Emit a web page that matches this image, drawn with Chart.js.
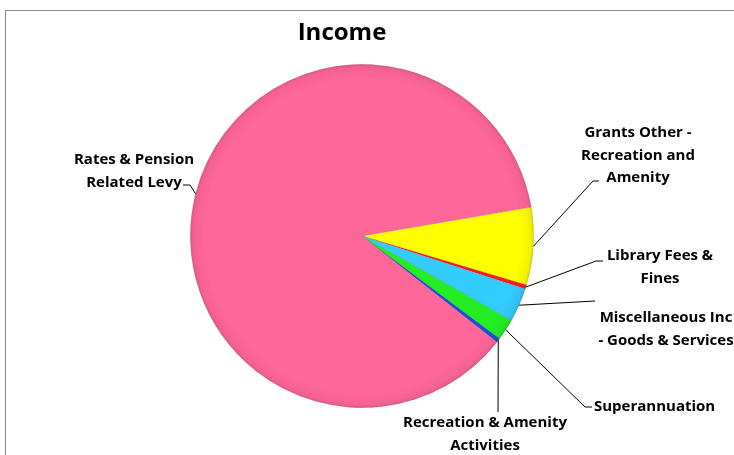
<!DOCTYPE html>
<html>
<head>
<meta charset="utf-8">
<script src="https://cdn.jsdelivr.net/npm/chart.js@4/dist/chart.umd.min.js"></script>
<style>
  html, body { margin: 0; padding: 0; background: #fff; }
  #wrap { position: relative; width: 734px; height: 455px; }
  #frame { position: absolute; left: 5px; top: 10px; right: 0; bottom: 0; border-top: 1px solid #8a8a8a; border-left: 1px solid #8a8a8a; pointer-events: none; }
  canvas { position: absolute; left: 0; top: 0; }
</style>
</head>
<body>
<div id="wrap">
  <div id="frame"></div>
  <canvas id="c" width="734" height="455"></canvas>
</div>
<script>
const chartTitle = "Income";
const categories = [
  "Grants Other - Recreation and Amenity",
  "Library Fees & Fines",
  "Miscellaneous Inc - Goods & Services",
  "Superannuation",
  "Recreation & Amenity Activities",
  "Rates & Pension Related Levy"
];
const labelLines = [
  ["Grants Other -", "Recreation and", "Amenity"],
  ["Library Fees &", "Fines"],
  ["Miscellaneous Inc", "- Goods & Services"],
  ["Superannuation"],
  ["Recreation & Amenity", "Activities"],
  ["Rates & Pension", "Related Levy"]
];
const shares = [7.3, 0.4, 3.2, 2.0, 0.4, 86.7];
const sliceColors = ["#FFFF00", "#FF1A1A", "#33CCFF", "#22EE22", "#1F4FD0", "#FF6699"];

// label placement: text anchor (x, y of first line), alignment, leader elbow and end
const labelLayout = [
  { x: 638, y: 133, align: "center", elbow: [593, 181], end: [599, 181] },
  { x: 660, y: 256, align: "center", elbow: [596, 261], end: [603, 261] },
  { x: 666, y: 318, align: "center", elbow: [595, 301], end: [595, 301] },
  { x: 594, y: 407, align: "left",   elbow: [585, 407], end: [592, 407] },
  { x: 485, y: 423, align: "center", elbow: [498, 412], end: [498, 412] },
  { x: 134, y: 160, align: "center", elbow: [190, 185], end: [183, 185] }
];

function shade(hex, f) {
  const n = parseInt(hex.slice(1), 16);
  let r = (n >> 16) & 255, g = (n >> 8) & 255, b = n & 255;
  r = Math.round(r * f); g = Math.round(g * f); b = Math.round(b * f);
  return `rgb(${r},${g},${b})`;
}

const labelPlugin = {
  id: "pieLabels",
  afterDraw(chart) {
    const ctx = chart.ctx;
    ctx.save();
    // title
    ctx.fillStyle = "#000";
    ctx.font = "bold 24px 'Open Sans', sans-serif";
    ctx.textAlign = "center";
    ctx.textBaseline = "middle";
    ctx.fillText(chartTitle, 342, 33);

    const meta = chart.getDatasetMeta(0);
    meta.data.forEach((arc, i) => {
      const L = labelLayout[i];
      const mid = (arc.startAngle + arc.endAngle) / 2;
      const sx = arc.x + Math.cos(mid) * arc.outerRadius;
      const sy = arc.y + Math.sin(mid) * arc.outerRadius;
      ctx.strokeStyle = "#000";
      ctx.lineWidth = 1;
      ctx.beginPath();
      ctx.moveTo(sx, sy);
      ctx.lineTo(L.elbow[0], L.elbow[1]);
      ctx.lineTo(L.end[0], L.end[1]);
      ctx.stroke();

      ctx.font = "bold 15px 'Open Sans', sans-serif";
      ctx.textAlign = L.align;
      ctx.textBaseline = "middle";
      labelLines[i].forEach((t, k) => ctx.fillText(t, L.x, L.y + k * 22.5));
    });
    ctx.restore();
  }
};

new Chart(document.getElementById("c"), {
  type: "pie",
  data: {
    labels: categories,
    datasets: [{
      data: shares,
      backgroundColor: (c) => {
        const a = c.chart.chartArea;
        if (!a) return sliceColors[c.dataIndex];
        const cx = (a.left + a.right) / 2, cy = (a.top + a.bottom) / 2;
        const r = Math.min(a.right - a.left, a.bottom - a.top) / 2;
        const g = c.chart.ctx.createRadialGradient(cx, cy, 0, cx, cy, r);
        const base = sliceColors[c.dataIndex];
        g.addColorStop(0, base);
        g.addColorStop(0.92, base);
        g.addColorStop(0.98, shade(base, 0.95));
        g.addColorStop(1, shade(base, 0.86));
        return g;
      },
      borderColor: "rgba(90,40,60,0.2)",
      borderWidth: 0.6
    }]
  },
  options: {
    responsive: false,
    animation: false,
    rotation: 80.3,
    layout: { padding: { left: 190, right: 200, top: 64, bottom: 47 } },
    plugins: {
      legend: { display: false },
      title: { display: false },
      tooltip: { enabled: false }
    }
  },
  plugins: [labelPlugin]
});
</script>
</body>
</html>
